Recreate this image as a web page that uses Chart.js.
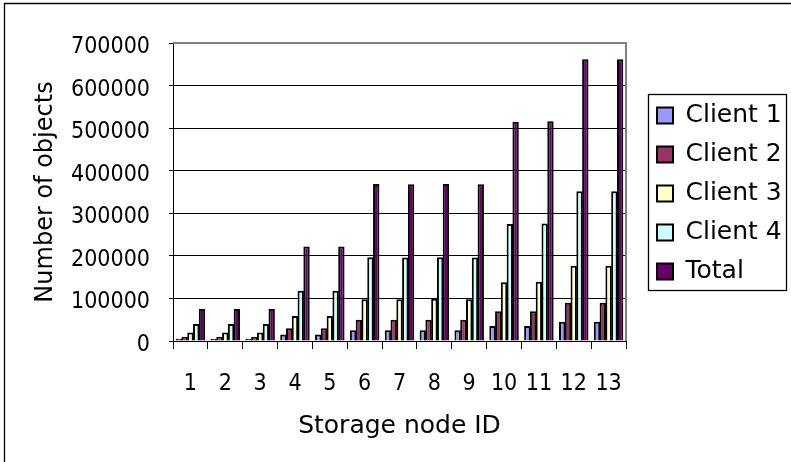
<!DOCTYPE html>
<html>
<head>
<meta charset="utf-8">
<script src="https://cdn.jsdelivr.net/npm/chart.js@4/dist/chart.umd.min.js"></script>
<style>
  html, body { margin: 0; padding: 0; background: #ffffff; }
  #wrap { width: 791px; height: 462px; }
</style>
</head>
<body>
<div id="wrap"><canvas id="c" width="791" height="462"></canvas></div>
<script>
// ---- data ----
const categories = ['1', '2', '3', '4', '5', '6', '7', '8', '9', '10', '11', '12', '13'];
const client1 = [5000, 5000, 5000, 15000, 15000, 25000, 25000, 25000, 25000, 35000, 35000, 45000, 45000];
const client2 = [10000, 10000, 10000, 30000, 30000, 50000, 50000, 50000, 50000, 70000, 70000, 90000, 90000];
const client3 = [20000, 20000, 20000, 59000, 59000, 98000, 98000, 99000, 98000, 138000, 139000, 177000, 177000];
const client4 = [40000, 40000, 40000, 118000, 118000, 197000, 196000, 197000, 196000, 275000, 276000, 352000, 352000];
const total   = [75000, 75000, 75000, 222000, 222000, 369000, 368000, 369000, 368000, 515000, 516000, 662000, 662000];
const seriesNames = ['Client 1', 'Client 2', 'Client 3', 'Client 4', 'Total'];
const yTickValues = [0, 100000, 200000, 300000, 400000, 500000, 600000, 700000];
const xTitle = 'Storage node ID';
const yTitle = 'Number of objects';

// ---- styling ----
const seriesColors = ['#9999FF', '#993366', '#FFFFCC', '#CCFFFF', '#660066'];
const seriesData = [client1, client2, client3, client4, total];
const FONT_MAIN = "'DejaVu Sans', sans-serif";
const FONT_TICK = "'DejaVu Sans Condensed', 'DejaVu Sans', sans-serif";

const datasets = seriesNames.map((name, i) => ({
  label: name,
  data: seriesData[i],
  backgroundColor: seriesColors[i],
  borderColor: '#000000',
  borderWidth: 2,
  barPercentage: 1.1,
  categoryPercentage: 0.83
}));

const LEGEND_PAD = 14;

const decor = {
  id: 'decor',
  afterInit(chart) {
    const lg = chart.legend;
    if (lg) {
      const origFit = lg.fit.bind(lg);
      lg.fit = function () { origFit(); this.width = 165; };
    }
  },
  afterLayout(chart) {
    const lg = chart.legend;
    if (lg) {
      lg.left += 17; lg.right += 17;
      lg.top += 1.5; lg.bottom += 1.5;
    }
  },
  beforeDatasetsDraw(chart) {
    const {ctx, chartArea: a} = chart;
    ctx.save();
    ctx.strokeStyle = '#808080';
    ctx.lineWidth = 2;
    ctx.beginPath();
    ctx.moveTo(a.left, a.top);
    ctx.lineTo(a.right, a.top);
    ctx.lineTo(a.right, a.bottom);
    ctx.stroke();
    ctx.restore();
  },
  afterDraw(chart) {
    const {ctx, chartArea: a} = chart;
    const lg = chart.legend;
    ctx.save();
    // outer chart frame (left and top edges visible)
    ctx.strokeStyle = '#000000';
    ctx.lineWidth = 1.3;
    ctx.beginPath();
    ctx.moveTo(4.5, chart.height + 2);
    ctx.lineTo(4.5, 3.5);
    ctx.lineTo(chart.width + 2, 3.5);
    ctx.stroke();
    // legend frame
    if (lg) {
      ctx.lineWidth = 1.3;
      ctx.strokeStyle = '#000000';
      const l = lg.left + 5, r = lg.left + 143;
      const t = a.top + 51, b = a.top + 247;
      ctx.strokeRect(l + 0.5, t + 0.5, r - l, b - t);
    }
    ctx.restore();
  }
};

new Chart(document.getElementById('c'), {
  type: 'bar',
  data: { labels: categories, datasets },
  plugins: [decor],
  options: {
    responsive: false,
    devicePixelRatio: 1,
    animation: false,
    layout: { padding: { left: 0, right: 0, top: 43, bottom: 0 } },
    plugins: {
      tooltip: { enabled: false },
      legend: {
        position: 'right',
        align: 'center',
        fullSize: false,
        labels: {
          color: '#000000',
          font: { family: FONT_MAIN, size: 25 },
          boxWidth: 16,
          boxHeight: 16,
          padding: LEGEND_PAD
        }
      }
    },
    scales: {
      x: {
        afterFit(s) { s.height = 121; },
        grid: {
          display: true,
          drawOnChartArea: false,
          drawTicks: true,
          tickLength: 8,
          tickColor: '#000000',
          offset: true
        },
        border: { display: true, color: '#000000', width: 1 },
        ticks: {
          color: '#000000',
          font: { family: FONT_TICK, size: 23 },
          padding: 21,
          maxRotation: 0,
          autoSkip: false
        },
        title: {
          display: true,
          text: xTitle,
          color: '#000000',
          font: { family: FONT_MAIN, size: 25 },
          padding: { top: 0, bottom: 21 }
        }
      },
      y: {
        min: 0,
        max: 700000,
        afterFit(s) { s.width = 173; },
        afterBuildTicks(s) { s.ticks = yTickValues.map(v => ({ value: v })); },
        grid: {
          color: (c) => (c.tick && c.tick.value === 700000 ? '#808080' : '#000000'),
          lineWidth: 1,
          drawTicks: true,
          tickLength: 4,
          tickColor: '#000000'
        },
        border: { display: true, color: '#000000', width: 1 },
        ticks: {
          color: '#000000',
          font: { family: FONT_TICK, size: 23 },
          padding: 19,
          labelOffset: 4,
          callback: (v) => String(v)
        },
        title: {
          display: true,
          text: yTitle,
          color: '#000000',
          font: { family: FONT_MAIN, size: 24 },
          padding: { top: 31.6, bottom: 0 }
        }
      }
    }
  }
});
</script>
</body>
</html>
